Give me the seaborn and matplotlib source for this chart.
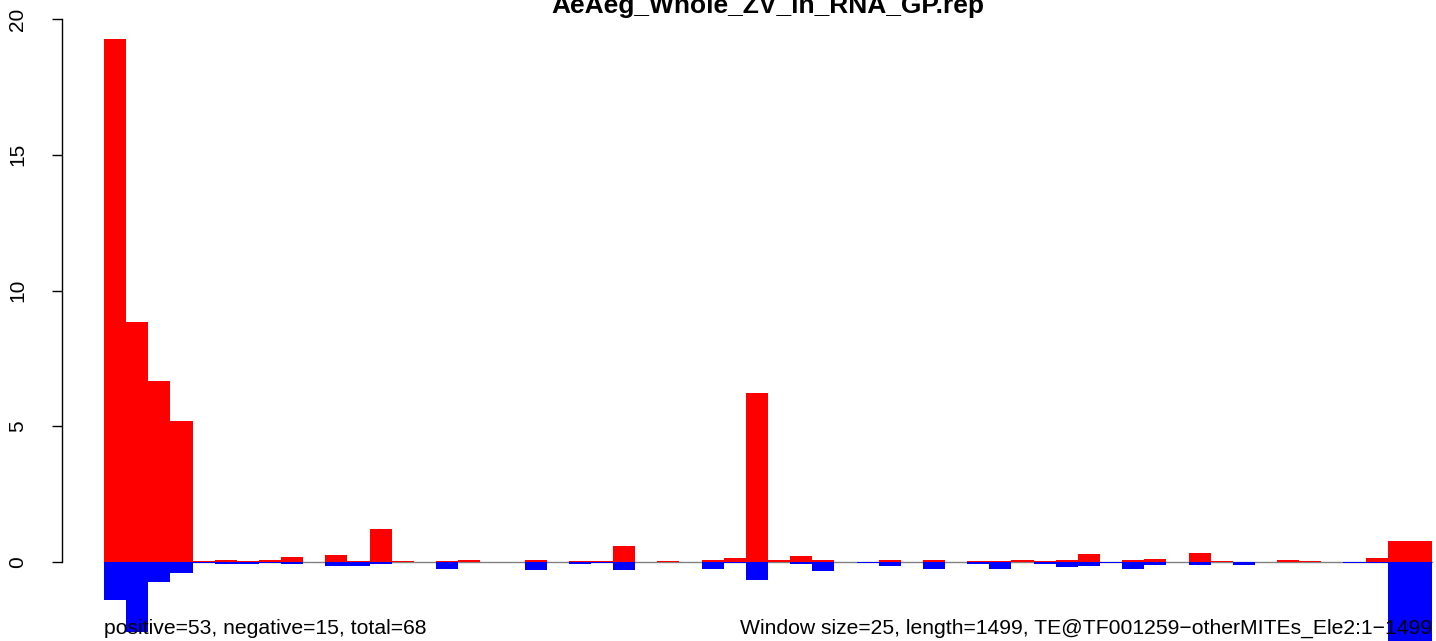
import matplotlib
matplotlib.use("Agg")
import matplotlib.pyplot as plt
import seaborn as sns
import pandas as pd
import numpy as np

title = "AeAeg_Whole_ZV_in_RNA_GP.rep"
left_note = "positive=53, negative=15, total=68"
right_note = "Window size=25, length=1499, TE@TF001259\u2212otherMITEs_Ele2:1\u22121499"

bins = list(range(60))
pos_vals = [19.27, 8.84, 6.67, 5.18, 0.04, 0.07, 0.04, 0.07, 0.2, 0.0,
            0.27, 0.04, 1.22, 0.04, 0.0, 0.03, 0.07, 0.0, 0.0, 0.07,
            0.0, 0.04, 0.02, 0.59, 0.0, 0.03, 0.0, 0.07, 0.15, 6.22,
            0.07, 0.22, 0.07, 0.0, 0.0, 0.07, 0.0, 0.07, 0.0, 0.04,
            0.03, 0.07, 0.04, 0.07, 0.29, 0.0, 0.07, 0.11, 0.0, 0.33,
            0.03, 0.0, 0.0, 0.07, 0.03, 0.0, 0.0, 0.15, 0.77, 0.77]
neg_vals = [-1.40, -2.57, -0.75, -0.40, -0.02, -0.06, -0.06, -0.02, -0.06, -0.01,
            -0.13, -0.13, -0.06, 0.0, 0.0, -0.25, 0.0, 0.0, -0.01, -0.28,
            0.0, -0.06, -0.04, -0.28, 0.0, -0.01, 0.0, -0.25, -0.04, -0.65,
            0.0, -0.06, -0.32, 0.0, -0.02, -0.13, 0.0, -0.25, 0.0, -0.06,
            -0.25, 0.0, -0.06, -0.17, -0.13, -0.02, -0.25, -0.10, 0.0, -0.10,
            0.0, -0.10, 0.0, 0.0, 0.0, 0.0, -0.02, -0.02, -3.2, -3.2]
yticks = [0, 5, 10, 15, 20]

sns.set_style("white")
plt.rcParams['font.family'] = ['Liberation Sans', 'DejaVu Sans']
plt.rcParams['text.color'] = 'black'
plt.rcParams['ytick.color'] = 'black'

W, H = 1436, 641
fig = plt.figure(figsize=(W / 100, H / 100), dpi=100)
ax = fig.add_axes([62 / W, 0, (W - 62) / W, 1])

df = pd.DataFrame({"bin": bins, "pos": pos_vals, "neg": neg_vals})

ax.plot([-0.5, 59.5], [0, 0], color="#808080", lw=1.0, zorder=1)
sns.barplot(data=df, x="bin", y="pos", color="#FF0000", width=1.0, saturation=1,
            linewidth=0, ax=ax, zorder=2)
sns.barplot(data=df, x="bin", y="neg", color="#0000FF", width=1.0, saturation=1,
            linewidth=0, ax=ax, zorder=2)

px_per_bin = (1432 - 104) / 60
ppu = (562 - 19) / 20.0
ax.set_xlim(-0.5 - 42 / px_per_bin, 59.5 + 4 / px_per_bin)
ax.set_ylim(-(H - 562) / ppu, 562 / ppu)

for s in ["top", "right", "bottom"]:
    ax.spines[s].set_visible(False)
ax.spines["left"].set_bounds(0, 20)
ax.spines["left"].set_color("black")
ax.spines["left"].set_linewidth(1.0)
ax.set_xticks([])
ax.set_yticks(yticks)
ax.set_yticklabels([str(t) for t in yticks], rotation=90, va="center", fontsize=15)
ax.tick_params(axis="y", direction="out", length=7, width=1, pad=18, color="black",
               labelcolor="black", left=True)
ax.set_xlabel("")
ax.set_ylabel("")
ax.patch.set_alpha(0)

ax.text(29.5, (562 - 13) / ppu, title, ha="center", va="baseline",
        fontsize=19, fontweight="bold", clip_on=False, color="black")
ax.text(-0.5, -(634 - 562) / ppu, left_note, ha="left", va="baseline",
        fontsize=15.2, zorder=5, color="black")
ax.text(59.5, -(634 - 562) / ppu, right_note, ha="right", va="baseline",
        fontsize=15.2, zorder=5, color="black")

fig.savefig("out.png", dpi=100)
